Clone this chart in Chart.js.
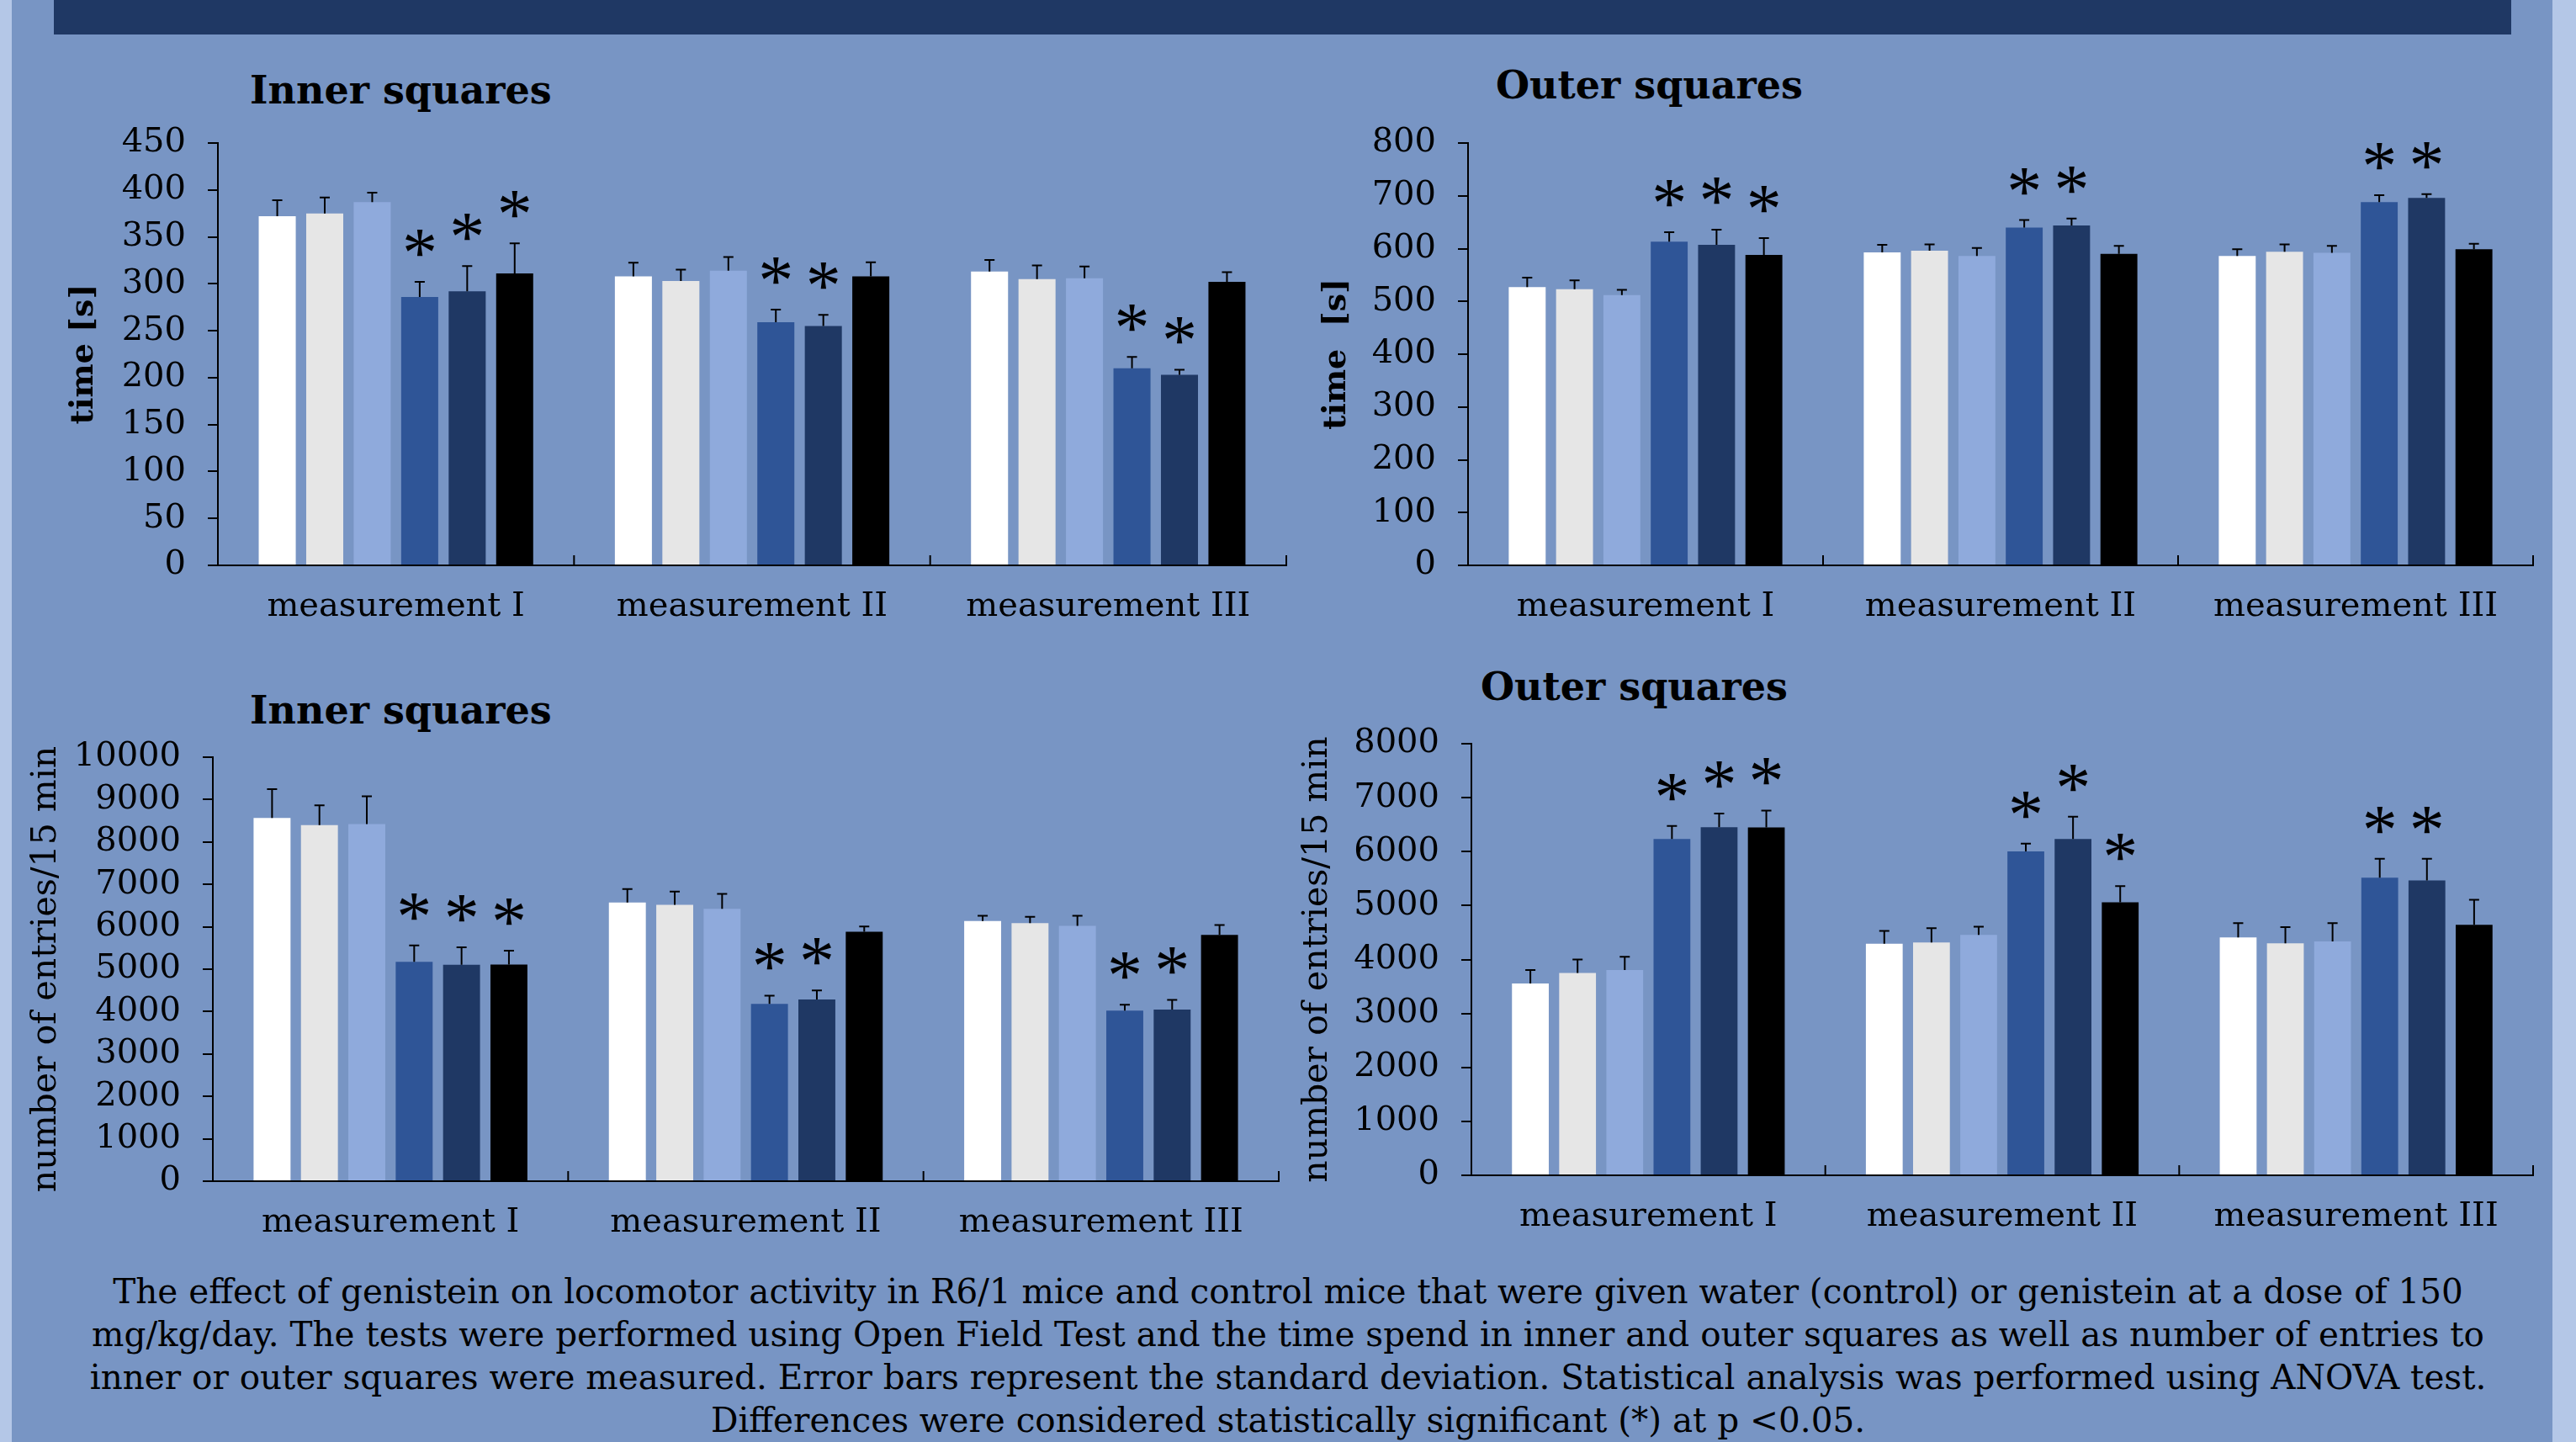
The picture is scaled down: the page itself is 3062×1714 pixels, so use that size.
<!DOCTYPE html>
<html>
<head>
<meta charset="utf-8">
<script src="https://cdn.jsdelivr.net/npm/chart.js@4.4.1/dist/chart.umd.min.js"></script>
<style>
  body { margin:0; width:3062px; height:1714px; background:#7895c4; position:relative; overflow:hidden; font-family:'DejaVu Serif', serif; color:#000; }
  .edge { position:absolute; top:0; height:1714px; background:#b4c7e7; }
  .header { position:absolute; left:64px; top:0; width:2921px; height:41px; background:#1f3864; }
  canvas { position:absolute; }
  .title { position:absolute; font-weight:bold; font-size:46px; line-height:50px; white-space:nowrap; }
  .caption { position:absolute; left:0; width:3062px; top:1510px; text-align:center; font-size:40.5px; line-height:51px; white-space:nowrap; }
</style>
</head>
<body>
<div class="edge" style="left:0;width:14px"></div>
<div class="edge" style="left:3034px;width:28px"></div>
<div class="header"></div>

<div class="title" style="left:297px;top:82px">Inner squares</div>
<div class="title" style="left:1778px;top:76px">Outer squares</div>
<div class="title" style="left:297px;top:819px">Inner squares</div>
<div class="title" style="left:1760px;top:791px">Outer squares</div>

<canvas id="timeInner"></canvas>
<canvas id="timeOuter"></canvas>
<canvas id="entriesInner"></canvas>
<canvas id="entriesOuter"></canvas>

<div class="caption">
The effect of genistein on locomotor activity in R6/1 mice and control mice that were given water (control) or genistein at a dose of 150<br>
mg/kg/day. The tests were performed using Open Field Test and the time spend in inner and outer squares as well as number of entries to<br>
inner or outer squares were measured. Error bars represent the standard deviation. Statistical analysis was performed using ANOVA test.<br>
Differences were considered statistically significant (*) at p &lt;0.05.
</div>

<script>
// measurements on the x axis
const categories = ['measurement I', 'measurement II', 'measurement III'];
const groupNames = ['group 1', 'group 2', 'group 3', 'group 4', 'group 5', 'group 6'];
const groupColors = ['#ffffff', '#e6e6e6', '#8faadc', '#2f5597', '#1f3864', '#000000'];

// one row per measurement, one column per group
// time spent in inner squares [s]
const timeInnerMean = [
    [372, 375, 387, 286, 292, 311],
    [308, 303, 314, 259, 255, 308],
    [313, 305, 306, 210, 203, 302]
];
const timeInnerSD = [
    [17, 17, 10, 16, 27, 32],
    [14.5, 12, 14.5, 13.5, 12, 15],
    [12.5, 14.5, 12.5, 12, 5.5, 10.5]
];
const timeInnerSig = [
    [0, 0, 0, 1, 1, 1],
    [0, 0, 0, 1, 1, 0],
    [0, 0, 0, 1, 1, 0]
];

// time spent in outer squares [s]
const timeOuterMean = [
    [527, 523, 512, 613, 607, 588],
    [593, 596, 586, 640, 644, 590],
    [586, 594, 592, 688, 696, 599]
];
const timeOuterSD = [
    [18, 17, 10, 18, 29, 32],
    [14, 12, 15, 14, 13, 15],
    [13, 14, 13, 13, 7, 10]
];
const timeOuterSig = [
    [0, 0, 0, 1, 1, 1],
    [0, 0, 0, 1, 1, 0],
    [0, 0, 0, 1, 1, 0]
];

// entries to inner squares per 15 min
const entriesInnerMean = [
    [8565, 8397, 8423, 5173, 5102, 5111],
    [6572, 6519, 6422, 4181, 4287, 5881],
    [6138, 6085, 6023, 4021, 4048, 5810]
];
const entriesInnerSD = [
    [682, 469, 656, 389, 416, 327],
    [319, 310, 354, 195, 213, 124],
    [124, 151, 239, 142, 230, 231]
];
const entriesInnerSig = [
    [0, 0, 0, 1, 1, 1],
    [0, 0, 0, 1, 1, 0],
    [0, 0, 0, 1, 1, 0]
];

// entries to outer squares per 15 min
const entriesOuterMean = [
    [3556, 3750, 3807, 6233, 6454, 6447],
    [4293, 4315, 4458, 6004, 6233, 5059],
    [4408, 4301, 4336, 5517, 5467, 4644]
];
const entriesOuterSD = [
    [251, 250, 243, 243, 251, 315],
    [237, 265, 150, 143, 415, 301],
    [265, 300, 337, 351, 401, 465]
];
const entriesOuterSig = [
    [0, 0, 0, 1, 1, 1],
    [0, 0, 0, 1, 1, 1],
    [0, 0, 0, 1, 1, 0]
];

// y axis ranges
const timeInnerTicks = { max: 450, step: 50 };
const timeOuterTicks = { max: 800, step: 100 };
const entriesInnerTicks = { max: 10000, step: 1000 };
const entriesOuterTicks = { max: 8000, step: 1000 };

Chart.defaults.font.family = "'DejaVu Serif', serif";
Chart.defaults.color = '#000';

// SD whiskers (upward only) and significance stars
const errorBars = {
    id: 'errorBars',
    afterDatasetsDraw(chart) {
        const ctx = chart.ctx;
        const yScale = chart.scales.y;
        ctx.save();
        ctx.strokeStyle = '#000';
        ctx.fillStyle = '#000';
        ctx.lineWidth = 2;
        chart.data.datasets.forEach(function(ds, i) {
            const meta = chart.getDatasetMeta(i);
            meta.data.forEach(function(bar, j) {
                const yTop = yScale.getPixelForValue(ds.data[j] + ds.sd[j]);
                ctx.beginPath();
                ctx.moveTo(bar.x, bar.y);
                ctx.lineTo(bar.x, yTop);
                ctx.moveTo(bar.x - 6, yTop);
                ctx.lineTo(bar.x + 6, yTop);
                ctx.stroke();
                if (ds.sig[j]) {
                    ctx.font = "84px 'Liberation Serif'";
                    ctx.textAlign = 'center';
                    ctx.textBaseline = 'alphabetic';
                    ctx.fillText('*', bar.x, yTop - 6);
                }
            });
        });
        ctx.restore();
    }
};

// small inward ticks between the measurement groups
const groupTicks = {
    id: 'groupTicks',
    afterDraw(chart) {
        const ctx = chart.ctx;
        const xs = chart.scales.x;
        ctx.save();
        ctx.strokeStyle = '#000';
        ctx.lineWidth = 2;
        for (let i = 0; i < categories.length; ++i) {
            const x = xs.getPixelForValue(i + 0.5);
            ctx.beginPath();
            ctx.moveTo(x, xs.top);
            ctx.lineTo(x, xs.top - 12);
            ctx.stroke();
        }
        ctx.restore();
    }
};

function make_chart(id, means, sds, sig, range, yTitle, titleSize, frame) {
    const canvas = document.getElementById(id);
    canvas.width = frame.w;
    canvas.height = frame.h;
    canvas.style.left = frame.x + 'px';
    canvas.style.top = frame.y + 'px';

    const datasets = groupColors.map(function(color, g) {
        return {
            label: groupNames[g],
            data: means.map(row => row[g]),
            sd: sds.map(row => row[g]),
            sig: sig.map(row => row[g]),
            backgroundColor: color,
            borderWidth: 0,
            barPercentage: 0.78,
            categoryPercentage: 0.8
        };
    });

    return new Chart(canvas, {
        type: 'bar',
        data: { labels: categories, datasets: datasets },
        options: {
            responsive: false,
            animation: false,
            events: [],
            layout: { padding: { left: frame.padLeft, top: frame.padTop, right: frame.padRight, bottom: 0 } },
            plugins: { legend: { display: false }, tooltip: { enabled: false } },
            scales: {
                x: {
                    grid: { display: false, drawTicks: false },
                    border: { display: true, color: '#000', width: 2 },
                    ticks: { font: { size: 40 }, padding: 26, maxRotation: 0 },
                    afterFit: function(scale) { scale.height = frame.xHeight; }
                },
                y: {
                    min: 0,
                    max: range.max,
                    grid: { display: true, drawOnChartArea: false, drawTicks: true, tickLength: 12, color: '#000', lineWidth: 2 },
                    border: { display: true, color: '#000', width: 2 },
                    ticks: { stepSize: range.step, autoSkip: false, font: { size: 40 }, padding: 26, callback: v => String(v) },
                    title: { display: true, text: yTitle, font: titleSize, padding: { top: 0, bottom: 0 } },
                    afterFit: function(scale) { scale.width = frame.yWidth; }
                }
            }
        },
        plugins: [errorBars, groupTicks]
    });
}

make_chart('timeInner', timeInnerMean, timeInnerSD, timeInnerSig, timeInnerTicks,
    'time [s]', { size: 38, weight: 'bold' },
    { x: 0, y: 120, w: 1560, h: 650, padLeft: 77, padTop: 43, padRight: 31, yWidth: 182, xHeight: 98 });

make_chart('timeOuter', timeOuterMean, timeOuterSD, timeOuterSig, timeOuterTicks,
    'time  [s]', { size: 38, weight: 'bold' },
    { x: 1540, y: 120, w: 1500, h: 650, padLeft: 26, padTop: 43, padRight: 29, yWidth: 179, xHeight: 98 });

make_chart('entriesInner', entriesInnerMean, entriesInnerSD, entriesInnerSig, entriesInnerTicks,
    'number of entries/15 min', { size: 41 },
    { x: 0, y: 780, w: 1560, h: 710, padLeft: 31, padTop: 120, padRight: 40, yWidth: 222, xHeight: 86 });

make_chart('entriesOuter', entriesOuterMean, entriesOuterSD, entriesOuterSig, entriesOuterTicks,
    'number of entries/15 min', { size: 41 },
    { x: 1540, y: 760, w: 1500, h: 730, padLeft: 2, padTop: 124, padRight: 29, yWidth: 207, xHeight: 93 });
</script>
</body>
</html>
